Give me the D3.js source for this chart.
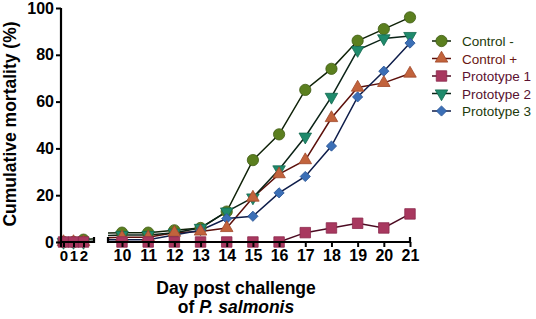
<!DOCTYPE html>
<html>
<head>
<meta charset="utf-8">
<script src="https://cdn.jsdelivr.net/npm/d3@7"></script>
<style>
  body { margin: 0; background: #fff; }
  svg { display: block; font-family: "Liberation Sans", Arial, sans-serif; }
</style>
</head>
<body>
<div class="chart"></div>
<script>
// data
var days = [0, 1, 2, 10, 11, 12, 13, 14, 15, 16, 17, 18, 19, 20, 21];
var seriesNames = ["Control -", "Control +", "Prototype 1", "Prototype 2", "Prototype 3"];
var controlNeg = [0, 0, 1, 4, 4, 5, 6, 13, 35, 46, 65, 74, 86, 91, 96];
var controlPos = [0, 0, 0, 2, 2, 4, 4.5, 6, 19, 29, 35, 53, 66, 68, 72];
var prototype1 = [0, 0, 0, 0, 0, 0, 0, 0, 0, 0, 4, 6, 8, 6, 12];
var prototype2 = [0, 0, 0, 3, 3, 4, 6, 13, 19, 31, 45, 62, 82, 87, 88];
var prototype3 = [0, 0, 0, 1, 1, 3, 5, 10, 11, 21, 28, 41, 62, 73, 85];
var yTicks = [0, 20, 40, 60, 80, 100];
var xTicksA = [0, 1, 2];
var xTicksB = [10, 11, 12, 13, 14, 15, 16, 17, 18, 19, 20, 21];

var styles = [
  { values: controlNeg, shape: d3.symbolCircle, size: 100, rot: 0, fill: "#5b7f1f", stroke: "#3f5c12", line: "#0f2208", text: "#1d3a0b" },
  { values: controlPos, shape: d3.symbolTriangle, size: 68, rot: 0, fill: "#c2633c", stroke: "#a0482a", line: "#5c100b", text: "#6a1712" },
  { values: prototype1, shape: d3.symbolSquare, size: 110, rot: 0, fill: "#a8385f", stroke: "#8c2a4c", line: "#4c0b22", text: "#5c1131" },
  { values: prototype2, shape: d3.symbolTriangle, size: 68, rot: 180, fill: "#1f8a6c", stroke: "#13694f", line: "#0b2317", text: "#571230" },
  { values: prototype3, shape: d3.symbolSquare, size: 52, rot: 45, fill: "#3b6fb6", stroke: "#2a5596", line: "#0e1d4a", text: "#1d3a0b" }
];

var W = 536, H = 319;
var svg = d3.select(".chart").append("svg").attr("width", W).attr("height", H);

var y = d3.scaleLinear().domain([0, 100]).range([242, 8]);
// broken x axis: two segments
var xA = d3.scaleLinear().domain([0, 2]).range([63.5, 83.5]);
var xB = d3.scaleLinear().domain([10, 21]).range([122, 410]);
var segA = [61, 94], segB = [108, 410];

var defs = svg.append("defs");
defs.append("clipPath").attr("id", "clipA").append("rect")
  .attr("x", segA[0]).attr("y", 0).attr("width", segA[1] - segA[0]).attr("height", 260);
defs.append("clipPath").attr("id", "clipB").append("rect")
  .attr("x", segB[0]).attr("y", 0).attr("width", segB[1] - segB[0] + 20).attr("height", 260);

// lines (drawn through each segment scale, clipped)
function segLine(xs) {
  return d3.line().x(function (d) { return xs(d[0]); }).y(function (d) { return y(d[1]); });
}
var lineGroup = svg.append("g");
styles.forEach(function (s) {
  var pts = days.map(function (d, i) { return [d, s.values[i]]; });
  lineGroup.append("path").datum(pts.slice(0, 4))
    .attr("clip-path", "url(#clipA)")
    .attr("fill", "none").attr("stroke", s.line).attr("stroke-width", 1.5)
    .attr("d", segLine(xA));
  lineGroup.append("path").datum(pts.slice(2))
    .attr("clip-path", "url(#clipB)")
    .attr("fill", "none").attr("stroke", s.line).attr("stroke-width", 1.5)
    .attr("d", segLine(xB));
});

// markers
var markGroup = svg.append("g");
var order = [0, 3, 4, 1, 2];
order.forEach(function (k) {
  var s = styles[k];
  days.forEach(function (d, i) {
    var px = d <= 2 ? xA(d) : xB(d);
    markGroup.append("path")
      .attr("d", d3.symbol().type(s.shape).size(s.size)())
      .attr("transform", "translate(" + px + "," + y(s.values[i]) + ") rotate(" + s.rot + ")")
      .attr("fill", s.fill).attr("stroke", s.stroke).attr("stroke-width", 0.8);
  });
});

// y axis
var yAxis = svg.append("g").attr("transform", "translate(61,0)")
  .call(d3.axisLeft(y).tickValues(yTicks).tickSize(5).tickPadding(2));
yAxis.select(".domain").attr("d", "M0,8V247").attr("stroke-width", 2.2);
yAxis.selectAll(".tick line").attr("stroke-width", 2);
yAxis.selectAll("text").attr("font-size", 16).attr("font-weight", "bold").attr("fill", "#000")
  .attr("font-family", "Liberation Sans, Arial, sans-serif");

// x axis segments
function xAxisSeg(xs, ticks, path, fs) {
  var g = svg.append("g").attr("transform", "translate(0,242)")
    .call(d3.axisBottom(xs).tickValues(ticks).tickFormat(d3.format("d")).tickSize(5).tickPadding(3));
  g.select(".domain").remove();
  g.append("path").attr("d", path)
    .attr("fill", "none").attr("stroke", "#000").attr("stroke-width", 2.2);
  g.selectAll(".tick line").attr("stroke-width", 2);
  g.selectAll("text").attr("font-size", fs).attr("font-weight", "bold").attr("fill", "#000")
    .attr("font-family", "Liberation Sans, Arial, sans-serif");
  return g;
}
xAxisSeg(xA, xTicksA, "M" + segA[0] + ",0H" + segA[1] + "V-5", 15);
xAxisSeg(xB, xTicksB, "M" + segB[0] + ",-5V0H" + segB[1] + "V-5", 16);

// axis titles
svg.append("text")
  .attr("transform", "translate(16,124) rotate(-90)")
  .attr("text-anchor", "middle")
  .attr("font-size", 17.5).attr("font-weight", "bold")
  .text("Cumulative mortality (%)");

svg.append("text").attr("x", 236).attr("y", 294)
  .attr("text-anchor", "middle").attr("font-size", 17.5).attr("font-weight", "bold")
  .text("Day post challenge");
var t2 = svg.append("text").attr("x", 236).attr("y", 313)
  .attr("text-anchor", "middle").attr("font-size", 17.5).attr("font-weight", "bold");
t2.append("tspan").text("of ");
t2.append("tspan").attr("font-style", "italic").text("P. salmonis");

// legend
var legend = svg.append("g").attr("transform", "translate(432,41)");
styles.forEach(function (s, i) {
  var row = legend.append("g").attr("transform", "translate(0," + (i * 17.5) + ")");
  row.append("line").attr("x1", 0).attr("x2", 19).attr("y1", 0).attr("y2", 0)
    .attr("stroke", s.line).attr("stroke-width", 1.5);
  row.append("path")
    .attr("d", d3.symbol().type(s.shape).size(s.size)())
    .attr("transform", "translate(9.5,0) rotate(" + s.rot + ")")
    .attr("fill", s.fill).attr("stroke", s.stroke).attr("stroke-width", 0.8);
  row.append("text").attr("x", 30).attr("y", 5)
    .attr("font-size", 13.5).attr("fill", s.text)
    .text(seriesNames[i]);
});
</script>
</body>
</html>
